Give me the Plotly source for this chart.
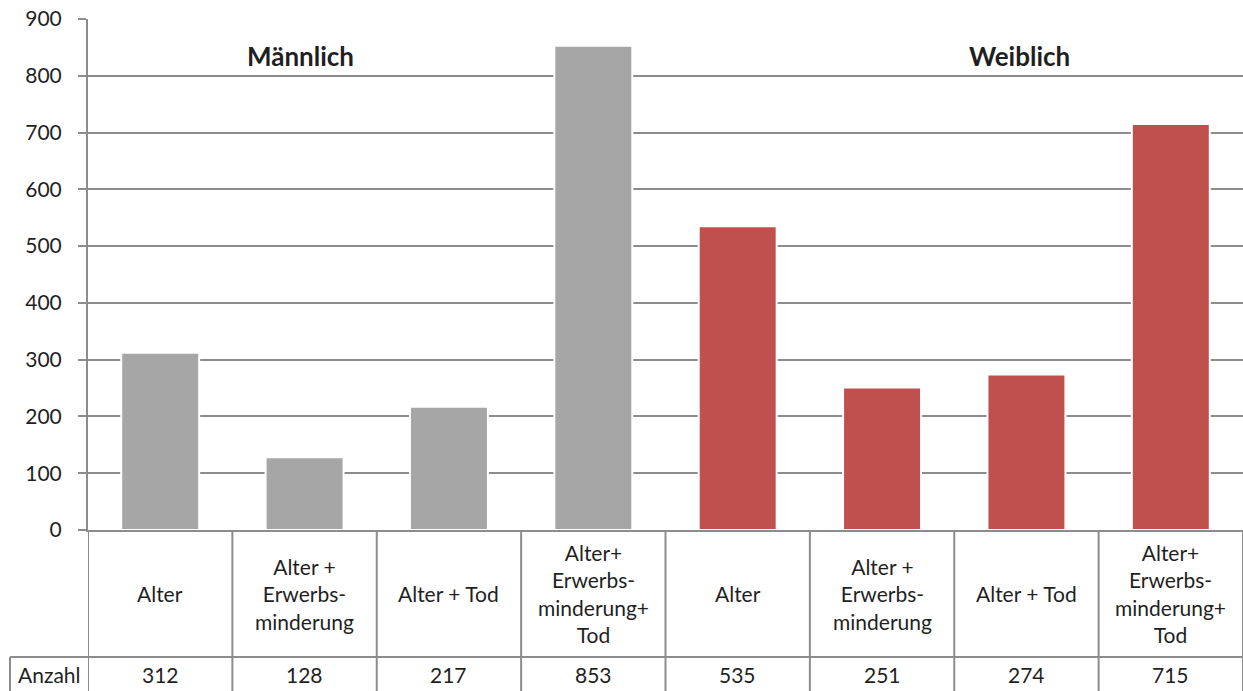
import plotly.graph_objects as go

# Data
categories = [
    "Alter",
    "Alter +<br>Erwerbs-<br>minderung",
    "Alter + Tod",
    "Alter+<br>Erwerbs-<br>minderung+<br>Tod",
    "Alter",
    "Alter +<br>Erwerbs-<br>minderung",
    "Alter + Tod",
    "Alter+<br>Erwerbs-<br>minderung+<br>Tod",
]
values = [312, 128, 217, 853, 535, 251, 274, 715]
groups = ["Männlich", "Weiblich"]
bar_colors = ["#a6a6a6"] * 4 + ["#c0504d"] * 4
row_label = "Anzahl"
y_ticks = [0, 100, 200, 300, 400, 500, 600, 700, 800, 900]

# Layout geometry (pixels)
W, H = 1243, 691
PLOT_L, PLOT_T, PLOT_B = 88, 19, 530
ROW1_B = 657  # bottom of category row
ANZ_L = 10    # left edge of "Anzahl" cell
FONT = "Lato, Open Sans, sans-serif"
TXT = "#1f1f1f"
LINE = "#8c8c8c"
plot_h = PLOT_B - PLOT_T


def py(p):
    """Pixel row -> paper y."""
    return (PLOT_B - p) / plot_h


def px(p):
    """Pixel column -> paper x."""
    return (p - PLOT_L) / (W - PLOT_L)


n = len(values)
xs = list(range(n))

fig = go.Figure(
    go.Bar(
        x=xs,
        y=values,
        marker=dict(color=bar_colors, line=dict(color="white", width=2)),
        width=0.54,
        hoverinfo="skip",
    )
)

shapes = []
# table: horizontal lines
shapes.append(dict(type="line", xref="paper", yref="paper", x0=0, x1=1,
                   y0=py(ROW1_B), y1=py(ROW1_B), line=dict(color=LINE, width=2)))
shapes.append(dict(type="line", xref="paper", yref="paper", x0=px(ANZ_L), x1=0,
                   y0=py(ROW1_B), y1=py(ROW1_B), line=dict(color=LINE, width=2)))
shapes.append(dict(type="line", xref="paper", yref="paper", x0=px(ANZ_L), x1=px(ANZ_L),
                   y0=py(ROW1_B), y1=py(H + 5), line=dict(color=LINE, width=2)))
# table: vertical separators between categories
for i in range(n + 1):
    xv = i - 0.5
    shapes.append(dict(type="line", xref="x", yref="paper", x0=xv, x1=xv,
                       y0=0, y1=py(H + 5), line=dict(color=LINE, width=2)))

annotations = []
for i, (cat, val) in enumerate(zip(categories, values)):
    annotations.append(dict(x=i, y=py((PLOT_B + ROW1_B) / 2), xref="x", yref="paper",
                            text=cat, showarrow=False, xanchor="center", yanchor="middle",
                            font=dict(family=FONT, size=21, color=TXT)))
    annotations.append(dict(x=i, y=py(674), xref="x", yref="paper",
                            text=str(val), showarrow=False, xanchor="center", yanchor="middle",
                            font=dict(family=FONT, size=21, color=TXT)))
annotations.append(dict(x=px((ANZ_L + PLOT_L) / 2), y=py(674), xref="paper", yref="paper",
                        text=row_label, showarrow=False, xanchor="center", yanchor="middle",
                        font=dict(family=FONT, size=21, color=TXT)))
# group headings
for g, xc in zip(groups, [0.97, 5.95]):
    annotations.append(dict(x=xc, y=py(56), xref="x", yref="paper",
                            text=f"<b>{g}</b>", showarrow=False, xanchor="center",
                            yanchor="middle",
                            font=dict(family=FONT, size=26, color=TXT)))

fig.update_layout(
    width=W, height=H,
    margin=dict(l=PLOT_L, r=0, t=PLOT_T, b=H - PLOT_B, pad=0),
    paper_bgcolor="white", plot_bgcolor="white",
    showlegend=False,
    shapes=shapes,
    annotations=annotations,
    xaxis=dict(range=[-0.5, n - 0.5], showticklabels=False, showgrid=False,
               zeroline=False, showline=True, linecolor=LINE, linewidth=2,
               fixedrange=True),
    yaxis=dict(range=[0, 900], tickvals=y_ticks, showgrid=True, gridcolor=LINE,
               gridwidth=1.5, zeroline=False, showline=True, linecolor=LINE,
               linewidth=2, ticks="outside", ticklen=8, tickcolor=LINE, tickwidth=2,
               ticklabelstandoff=12,
               tickfont=dict(family=FONT, size=21, color=TXT),
               fixedrange=True),
)

fig.write_html("out.html")
